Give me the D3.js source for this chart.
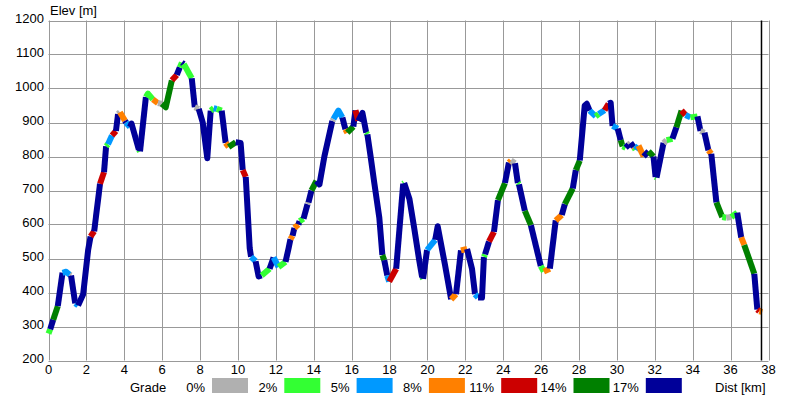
<!DOCTYPE html>
<html><head><meta charset="utf-8">
<script src="https://cdn.jsdelivr.net/npm/d3@7"></script>
<style>
html,body{margin:0;padding:0;background:#fff;}
svg text{font-family:"Liberation Sans",Arial,sans-serif;font-size:13px;fill:#000;}
</style></head>
<body>
<svg id="c" width="800" height="400"></svg>
<script>
// ---- data ----
const distKm = [0.00,0.09,0.25,0.49,0.74,0.93,1.12,1.19,1.41,1.56,1.83,2.09,2.22,2.41,2.72,2.93,3.04,3.14,3.35,3.56,3.67,3.77,4.04,4.09,4.30,4.38,4.77,4.83,5.14,5.25,5.51,5.77,5.98,6.19,6.51,6.77,6.93,7.04,7.14,7.56,7.72,7.93,8.14,8.38,8.56,8.72,8.88,9.14,9.35,9.51,9.88,10.14,10.25,10.41,10.62,10.69,10.93,11.09,11.25,11.67,11.88,12.14,12.51,12.67,12.77,12.88,12.98,13.19,13.25,13.46,13.67,13.72,13.88,14.14,14.30,14.56,14.98,15.04,15.30,15.51,15.67,15.77,16.09,16.20,16.35,16.57,16.77,16.83,17.00,17.20,17.46,17.62,17.72,17.88,17.98,18.35,18.72,18.77,19.05,19.30,19.55,19.72,19.77,19.98,20.41,20.54,20.93,21.25,21.51,21.77,22.09,22.35,22.51,22.67,22.88,22.98,23.04,23.25,23.51,23.72,24.09,24.30,24.41,24.62,24.77,24.83,25.14,25.46,25.98,26.14,26.46,26.77,27.09,27.25,27.67,27.83,28.04,28.30,28.41,28.56,28.88,29.04,29.35,29.56,29.67,29.77,30.04,30.20,30.30,30.46,30.62,30.72,30.88,30.93,30.98,31.14,31.41,31.67,31.93,32.04,32.09,32.46,32.62,32.93,33.14,33.41,33.62,33.88,34.25,34.41,34.62,34.83,34.98,35.25,35.56,35.77,36.04,36.35,36.56,36.72,37.25,37.41,37.51,37.67];
const elevM = [279,292,320,360,458,461,452,450,368,362,395,524,565,580,720,754,830,836,862,875,925,930,905,900,887,897,820,815,975,985,968,957,955,945,1024,1040,1062,1076,1072,1030,945,940,900,795,935,942,940,935,840,828,842,840,760,740,530,505,492,447,450,470,503,475,490,530,557,567,590,600,610,617,660,665,700,728,718,800,905,910,935,915,880,870,888,936,905,928,870,865,800,720,620,510,495,450,432,470,720,722,675,590,500,445,440,525,555,595,480,380,395,524,528,470,395,385,385,505,512,550,578,672,722,782,788,780,722,718,640,598,478,462,470,612,628,660,706,760,788,950,955,935,918,925,936,955,958,890,882,848,830,826,835,840,828,825,820,832,800,815,800,740,738,840,848,852,886,935,922,915,918,875,870,818,808,665,622,620,622,635,562,540,455,350,345,343];
// grade class of the segment ending at each point (0 = 0-2% ... 6 = 17%+)
const gradeIdx = [6,1,6,5,6,2,2,0,6,2,6,6,6,4,6,4,6,1,2,4,6,0,3,6,2,6,6,1,6,1,1,3,0,5,5,4,6,1,6,1,6,0,6,6,6,1,2,1,6,3,5,6,6,4,6,6,2,6,6,1,6,2,1,6,6,3,6,3,6,1,6,0,6,5,6,6,6,0,2,2,6,3,5,6,4,6,6,1,6,6,6,6,5,6,2,4,6,1,6,6,6,6,1,6,2,6,6,6,3,6,3,6,6,2,6,6,1,6,4,6,5,6,3,0,6,1,6,5,6,1,3,6,3,6,5,6,5,6,6,6,2,1,2,4,6,6,2,6,5,1,6,0,6,3,1,2,3,6,5,6,1,6,0,1,6,5,4,2,1,6,0,6,3,6,5,1,0,1,6,3,5,6,4,3];
const gradeLabels = ["0%","2%","5%","8%","11%","14%","17%"];
const gradeColors = ["#b0b0b0","#33ff33","#0099ff","#ff8000","#cc0000","#008000","#000099"];
const xTicks = [0,2,4,6,8,10,12,14,16,18,20,22,24,26,28,30,32,34,36,38];
const yTicks = [200,300,400,500,600,700,800,900,1000,1100,1200];
const trackEndKm = 37.63;
const xTitle = "Dist [km]";
const yTitle = "Elev [m]";
const legendTitle = "Grade";

// ---- chart ----
const svg = d3.select("#c");
const x = d3.scaleLinear().domain([0,38]).range([48.5,768.5]);
const y = d3.scaleLinear().domain([200,1200]).range([360.5,20.5]);

const grid = svg.append("g");
grid.selectAll("line.v").data(xTicks).join("line")
  .attr("x1",d=>Math.round(x(d))+0.5).attr("x2",d=>Math.round(x(d))+0.5)
  .attr("y1",y(1200)).attr("y2",y(200))
  .attr("stroke","#999").attr("stroke-width",1);
grid.selectAll("line.h").data(yTicks).join("line")
  .attr("y1",d=>Math.round(y(d))+0.5).attr("y2",d=>Math.round(y(d))+0.5)
  .attr("x1",x(0)).attr("x2",x(38))
  .attr("stroke","#999").attr("stroke-width",1);

// axis labels
svg.append("g").selectAll("text").data(yTicks).join("text")
  .attr("x",44).attr("y",d=>y(d)+2).attr("text-anchor","end").text(d=>d);
svg.append("g").selectAll("text").data(xTicks).join("text")
  .attr("x",d=>x(d)).attr("y",374).attr("text-anchor","middle").text(d=>d);
svg.append("text").attr("x",50).attr("y",15).text(yTitle);

// profile: group consecutive segments of the same grade
const pts = distKm.map((d,i)=>({d, e:elevM[i], g:gradeIdx[i]}));
const runs = [];
for (let i=1;i<pts.length;i++){
  const g = pts[i].g;
  if (runs.length && runs[runs.length-1].g===g) runs[runs.length-1].p.push(pts[i]);
  else runs.push({g, p:[pts[i-1],pts[i]]});
}
const line = d3.line().x(p=>x(p.d)).y(p=>y(p.e));
svg.append("g").selectAll("path").data(runs).join("path")
  .attr("d",r=>line(r.p))
  .attr("fill","none")
  .attr("stroke",r=>gradeColors[r.g])
  .attr("stroke-width",6)
  .attr("stroke-linejoin","round")
  .attr("stroke-linecap","butt");

// track end marker
svg.append("line")
  .attr("x1",x(trackEndKm)).attr("x2",x(trackEndKm))
  .attr("y1",y(1200)).attr("y2",y(200))
  .attr("stroke","#000").attr("stroke-width",1.5);

// legend
svg.append("text").attr("x",130).attr("y",392).text(legendTitle);
const lg = svg.append("g");
gradeLabels.forEach((lab,i)=>{
  const sx = 212 + i*72.3;
  lg.append("text").attr("x",sx-7).attr("y",392).attr("text-anchor","end").text(lab);
  lg.append("rect").attr("x",sx).attr("y",378).attr("width",36).attr("height",15)
    .attr("fill",gradeColors[i]);
});
svg.append("text").attr("x",715).attr("y",392).text(xTitle);
</script>
</body></html>
